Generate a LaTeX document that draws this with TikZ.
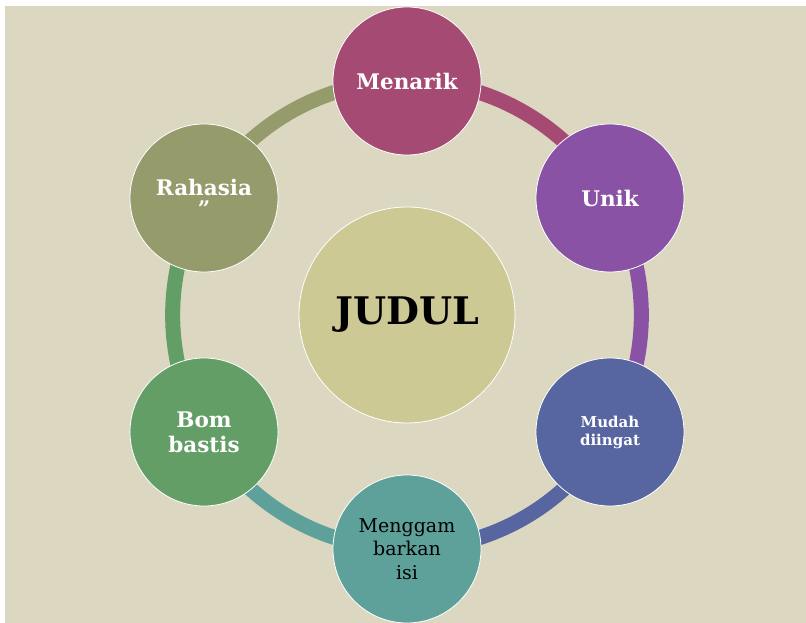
\documentclass[tikz,border=0pt]{standalone}
\usepackage{fontspec}
\setmainfont{DejaVu Serif}
\definecolor{bg}{HTML}{DBD7C1}
\definecolor{cMen}{HTML}{A54B73}
\definecolor{cUni}{HTML}{8A52A4}
\definecolor{cMud}{HTML}{5765A0}
\definecolor{cMeng}{HTML}{5EA19B}
\definecolor{cBom}{HTML}{639E66}
\definecolor{cRah}{HTML}{959B6B}
\definecolor{cJud}{HTML}{CCC995}
\tikzset{
  bub/.style={circle, minimum size=148pt, inner sep=0pt, draw=white, line width=0.8pt, text=white, align=center, font=\bfseries\fontsize{21.5}{25}\selectfont},
  ring/.style={line width=15pt},
}
\begin{document}
\begin{tikzpicture}[x=1pt,y=1pt]
\useasboundingbox (0,0) rectangle (806,623);
\fill[white] (0,0) rectangle (806,623);
\fill[bg] (5,0) rectangle (806,617);
\begin{scope}
\clip (5,0) rectangle (806,617);
\coordinate (o) at (407,308);
\coordinate (p1) at (407,542);
\coordinate (p2) at (610,425);
\coordinate (p3) at (610,191);
\coordinate (p4) at (407,74);
\coordinate (p5) at (204,191);
\coordinate (p6) at (204,425);
\draw[ring, cMen] (p1) arc[start angle=90, end angle=30, radius=234];
\draw[ring, cUni] (p2) arc[start angle=30, end angle=-30, radius=234];
\draw[ring, cMud] (p3) arc[start angle=-30, end angle=-90, radius=234];
\draw[ring, cMeng] (p4) arc[start angle=-90, end angle=-150, radius=234];
\draw[ring, cBom] (p5) arc[start angle=210, end angle=150, radius=234];
\draw[ring, cRah] (p6) arc[start angle=150, end angle=90, radius=234];
\node[bub, fill=cJud, minimum size=216pt, text=black, font=\bfseries\fontsize{38}{42}\selectfont] (judul) at (o) {JUDUL};
\node[bub, fill=cMen] (men) at (p1) {Menarik};
\node[bub, fill=cUni] (unik) at (p2) {Unik};
\node[bub, fill=cMud, font=\bfseries\fontsize{15}{18}\selectfont] (mudah) at (p3) {Mudah\\diingat};
\node[bub, fill=cMeng, text=black, font=\fontsize{19}{23.5}\selectfont] (meng) at (p4) {Menggam\\barkan\\isi};
\node[bub, fill=cBom] (bom) at (p5) {Bom\\bastis};
\node[bub, fill=cRah, font=\bfseries\fontsize{21.5}{21}\selectfont] (rah) at (p6) {Rahasia\\”};
\end{scope}
\end{tikzpicture}
\end{document}
